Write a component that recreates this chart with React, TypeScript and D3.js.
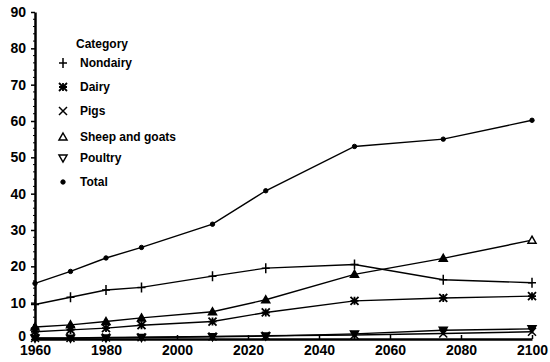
import React, { useEffect, useRef } from 'react';
import * as d3 from 'd3';

const years = [1960, 1970, 1980, 1990, 2010, 2025, 2050, 2075, 2100];
const nondairy = [9.5, 11.5, 13.5, 14.2, 17.3, 19.5, 20.5, 16.3, 15.5];
const dairy = [2.0, 2.5, 3.0, 3.8, 4.8, 7.3, 10.5, 11.3, 11.8];
const pigs = [0.3, 0.3, 0.4, 0.5, 0.7, 0.9, 1.1, 1.5, 2.0];
const sheepGoats = [3.3, 3.9, 4.8, 5.8, 7.5, 10.8, 17.8, 22.2, 27.2];
const poultry = [0.2, 0.2, 0.3, 0.4, 0.6, 0.8, 1.4, 2.4, 2.8];
const total = [15.3, 18.6, 22.3, 25.2, 31.6, 40.8, 53.0, 55.0, 60.2];
const categories = ['Nondairy', 'Dairy', 'Pigs', 'Sheep and goats', 'Poultry', 'Total'];
const xTicks = [1960, 1980, 2000, 2020, 2040, 2060, 2080, 2100];
const yTicks = [0, 10, 20, 30, 40, 50, 60, 70, 80, 90];

const seriesList = [nondairy, dairy, pigs, sheepGoats, poultry, total];

const W = 550;
const H = 362;
const margin = { left: 35, right: 18, top: 12, bottom: 23 };
const tickFont = '"Liberation Sans Narrow", "Liberation Sans", Arial, sans-serif';

// draw a marker shape centred on (0,0)
function drawMarker(g: d3.Selection<SVGGElement, unknown, null, undefined>, kind: string, open = false) {
  const s = 4;
  if (kind === 'Nondairy') {
    g.append('path').attr('d', `M${-s},0H${s}M0,${-s - 1}V${s + 1}`).attr('stroke', '#000').attr('stroke-width', 1.5);
  } else if (kind === 'Dairy') {
    g.append('path')
      .attr('d', `M${-s},0H${s}M0,${-s}V${s}M${-s},${-s}L${s},${s}M${-s},${s}L${s},${-s}`)
      .attr('stroke', '#000').attr('stroke-width', 1.8);
  } else if (kind === 'Pigs') {
    g.append('path').attr('d', `M${-s},${-s}L${s},${s}M${-s},${s}L${s},${-s}`).attr('stroke', '#000').attr('stroke-width', 1.5);
  } else if (kind === 'Sheep and goats') {
    g.append('path').attr('d', `M0,${-s}L${s},${s - 1}L${-s},${s - 1}Z`)
      .attr('fill', open ? '#fff' : '#000').attr('stroke', '#000').attr('stroke-width', 1.5);
  } else if (kind === 'Poultry') {
    g.append('path').attr('d', `M${-s},${-s + 1}L${s},${-s + 1}L0,${s}Z`)
      .attr('fill', open ? '#fff' : '#000').attr('stroke', '#000').attr('stroke-width', 1.5);
  } else {
    g.append('circle').attr('r', 2.2)
      .attr('fill', open ? '#fff' : '#000').attr('stroke', '#000').attr('stroke-width', 1);
  }
}

const App: React.FC = () => {
  const ref = useRef<SVGSVGElement>(null);

  useEffect(() => {
    const svg = d3.select(ref.current);
    svg.selectAll('*').remove();

    const x = d3.scaleLinear().domain([1960, 2100]).range([margin.left, W - margin.right]);
    const y = d3.scaleLinear().domain([0, 90]).range([H - margin.bottom, margin.top]);

    // series lines and markers
    const line = d3.line<number>()
      .x((_, i) => x(years[i]))
      .y(d => y(d));

    seriesList.forEach((vals, si) => {
      svg.append('path')
        .datum(vals)
        .attr('d', line)
        .attr('fill', 'none')
        .attr('stroke', '#000')
        .attr('stroke-width', 1.4);

      vals.forEach((v, i) => {
        const g = svg.append('g').attr('transform', `translate(${x(years[i])},${y(v)})`);
        const last = i === vals.length - 1;
        drawMarker(g, categories[si], last && si === 3);
      });
    });

    // axes
    const xAxis = d3.axisBottom(x).tickValues(xTicks).tickFormat(d3.format('d')).tickSizeInner(-4).tickSizeOuter(0);
    const gx = svg.append('g').attr('transform', `translate(0,${H - margin.bottom})`).call(xAxis);
    gx.select('.domain').attr('stroke-width', 2.5);
    gx.selectAll('line').attr('stroke-width', 1.5);
    gx.selectAll('text')
      .attr('dy', '0.95em')
      .attr('y', 3)
      .style('font-family', tickFont)
      .style('font-weight', 'bold')
      .style('font-size', '14px')
      .attr('fill', '#000');

    const yAxis = d3.axisLeft(y).tickValues(yTicks).tickSizeInner(4).tickSizeOuter(0);
    const gy = svg.append('g').attr('transform', `translate(${margin.left},0)`).call(yAxis);
    gy.select('.domain').attr('stroke-width', 2.5);
    gy.selectAll('line').attr('stroke-width', 1.5);
    gy.selectAll('text')
      .attr('x', -9)
      .attr('dy', (d: any) => (d === 0 ? '0.1em' : '0.32em'))
      .style('font-family', tickFont)
      .style('font-weight', 'bold')
      .style('font-size', '14px')
      .attr('fill', '#000');

    // minor ticks on y axis
    svg.append('g').selectAll('line')
      .data(d3.range(0, 91, 2).filter(v => v % 10 !== 0))
      .enter()
      .append('line')
      .attr('x1', margin.left - 2)
      .attr('x2', margin.left)
      .attr('y1', d => y(d))
      .attr('y2', d => y(d))
      .attr('stroke', '#000')
      .attr('stroke-width', 1);

    // legend
    const legend = svg.append('g');
    legend.append('text')
      .attr('x', 76)
      .attr('y', 48)
      .style('font-family', '"Liberation Sans", Arial, sans-serif')
      .style('font-weight', 'bold')
      .style('font-size', '12px')
      .text('Category');

    const legendY = [63, 87, 111, 137, 158, 182];
    categories.forEach((c, i) => {
      const g = legend.append('g').attr('transform', `translate(63,${legendY[i]})`);
      drawMarker(g, c, c === 'Sheep and goats' || c === 'Poultry');
      legend.append('text')
        .attr('x', 80)
        .attr('y', legendY[i] + 4)
        .style('font-family', '"Liberation Sans", Arial, sans-serif')
        .style('font-weight', 'bold')
        .style('font-size', '12px')
        .text(c);
    });
  }, []);

  return (
    <svg ref={ref} width={W} height={H} style={{ position: 'absolute', left: 0, top: 0, background: '#fff' }} />
  );
};

export default App;
